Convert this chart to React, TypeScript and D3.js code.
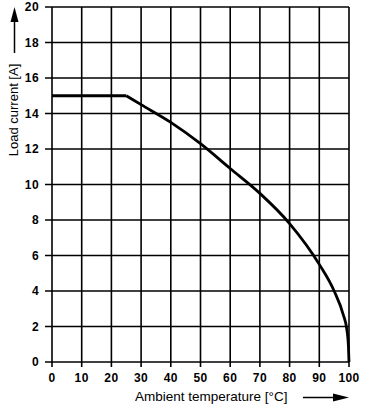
import { useEffect, useRef } from "react";
import * as d3 from "d3";

// derating curve
const tempFlat = [0, 25];
const currentFlat = [15, 15];
const tempCurve = [25, 30, 40, 50, 60, 70, 80, 90, 95, 98, 99.3, 99.8, 100];
const currentCurve = [15, 14.5, 13.5, 12.3, 10.9, 9.5, 7.8, 5.5, 4.0, 2.7, 1.8, 0.9, 0];

const xTicks = [0, 10, 20, 30, 40, 50, 60, 70, 80, 90, 100];
const yTicks = [0, 2, 4, 6, 8, 10, 12, 14, 16, 18, 20];

const W = 366;
const H = 408;
const FONT = "'Liberation Sans', Arial, Helvetica, sans-serif";

export default function App() {
  const svgRef = useRef<SVGSVGElement>(null);

  useEffect(() => {
    if (!svgRef.current) return;
    const svg = d3.select(svgRef.current);
    svg.selectAll("*").remove();

    const x = d3.scaleLinear().domain([0, 100]).range([52, 349]);
    const y = d3.scaleLinear().domain([0, 20]).range([362, 7]);

    svg.append("rect").attr("width", W).attr("height", H).attr("fill", "#fff");

    // grid
    const g = svg.append("g").attr("stroke", "#000").attr("stroke-width", 1.6);
    g.selectAll("line.v")
      .data(xTicks)
      .enter()
      .append("line")
      .attr("x1", (d) => x(d))
      .attr("x2", (d) => x(d))
      .attr("y1", y(20))
      .attr("y2", y(0) + 5);
    g.selectAll("line.h")
      .data(yTicks)
      .enter()
      .append("line")
      .attr("x1", x(0) - 7)
      .attr("x2", x(100))
      .attr("y1", (d) => y(d))
      .attr("y2", (d) => y(d));

    // tick labels
    svg.append("g")
      .selectAll("text")
      .data(xTicks)
      .enter()
      .append("text")
      .attr("x", (d) => x(d))
      .attr("y", 382)
      .attr("text-anchor", "middle")
      .attr("font-family", FONT)
      .attr("font-weight", "bold")
      .attr("font-size", 12)
      .attr("letter-spacing", 0.4)
      .text((d) => d);

    svg.append("g")
      .selectAll("text")
      .data(yTicks)
      .enter()
      .append("text")
      .attr("x", 39)
      .attr("y", (d) => y(d) + 4)
      .attr("text-anchor", "end")
      .attr("font-family", FONT)
      .attr("font-weight", "bold")
      .attr("font-size", 12)
      .attr("letter-spacing", 0.4)
      .text((d) => d);

    // curve
    const drawLine = (xs: number[], ys: number[], curve: d3.CurveFactory) =>
      svg.append("path")
        .attr("d", d3.line<number>()
          .x((_, i) => x(xs[i]))
          .y((d) => y(d))
          .curve(curve)(ys))
        .attr("fill", "none")
        .attr("stroke", "#000")
        .attr("stroke-width", 2.8);
    drawLine(tempFlat, currentFlat, d3.curveLinear);
    drawLine(tempCurve, currentCurve, d3.curveMonotoneX);

    // axis titles with arrows
    svg.append("text")
      .attr("transform", "translate(18,110) rotate(-90)")
      .attr("text-anchor", "middle")
      .attr("font-family", FONT)
      .attr("font-size", 13)
      .text("Load current [A]");
    svg.append("line")
      .attr("x1", 14.5).attr("x2", 14.5)
      .attr("y1", 53).attr("y2", 20)
      .attr("stroke", "#000").attr("stroke-width", 1.5);
    svg.append("path")
      .attr("d", "M14.5,7 L10.5,22 L18.5,22 Z")
      .attr("fill", "#000");

    svg.append("text")
      .attr("x", 135)
      .attr("y", 401)
      .attr("font-family", FONT)
      .attr("font-size", 13.5)
      .text("Ambient temperature [°C]");
    svg.append("line")
      .attr("x1", 303).attr("x2", 335)
      .attr("y1", 397.5).attr("y2", 397.5)
      .attr("stroke", "#000").attr("stroke-width", 1.5);
    svg.append("path")
      .attr("d", "M349,397.5 L333,393.5 L333,401.5 Z")
      .attr("fill", "#000");
  }, []);

  return (
    <svg
      ref={svgRef}
      width={W}
      height={H}
      style={{ position: "absolute", left: 0, top: 0 }}
    />
  );
}
